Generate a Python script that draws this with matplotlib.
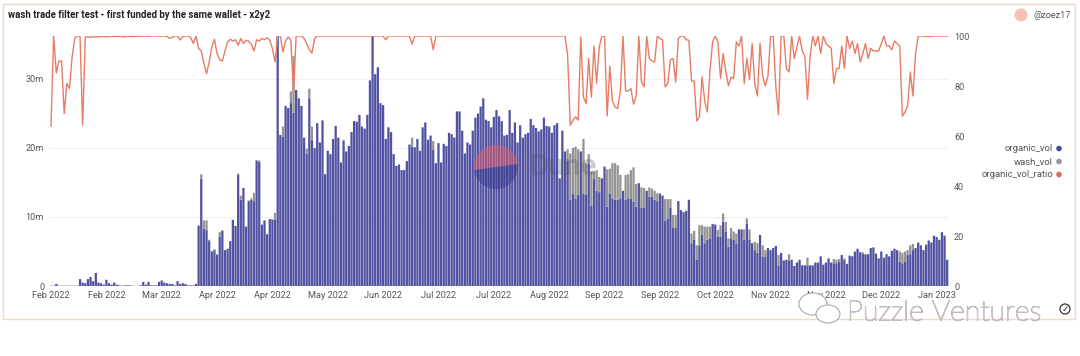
import matplotlib
matplotlib.use("Agg")
import matplotlib.dates as mdates
import matplotlib.patheffects as pe
import matplotlib.pyplot as plt
import pandas as pd
from matplotlib.patches import Circle, Ellipse, Rectangle, Wedge

start_date = "2022-02-04"

organic_vol = [
    .05, .05, .3, .05, .05, .05, .05, .05, .05, .05,
    .05, 1.0, .5, .4, 1.0, 1.3, .7, 1.9, .5, .4,
    .2, .9, .4, .2, .5, .2, .1, .05, .1, .1,
    .1, .05, .02, .02, .1, .6, .2, .6, .1, .1,
    .1, .6, .8, .5, .4, .3, .3, .1, .7, .3,
    .4, .3, .1, .1, .1, .3, 8.7, 15.5, 8.3, 8.1,
    6.5, 5.0, 5.2, 4.5, 7.1, 8.0, 5.2, 5.4, 6.5, 9.6,
    8.7, 16.1, 12.5, 14.2, 8.6, 12.3, 12.5, 12.3, 18.2, 18.0,
    8.9, 9.5, 7.5, 9.7, 9.6, 9.6, 37, 21.9, 21.6, 26.1,
    25.8, 26.5, 25.1, 28.4, 27.2, 26.1, 21.5, 19.2, 27.2, 21.2,
    20, 23.6, 20.8, 24, 16.2, 19.6, 19.1, 21.3, 23.2, 21.5,
    17.9, 21.1, 19.5, 20.3, 22.3, 23.9, 23.8, 24.8, 23.1, 22.8,
    24.8, 29.8, 37, 30.7, 31.7, 26.5, 26.2, 21.3, 23, 22.3,
    19.1, 17.4, 17.6, 16.8, 16.8, 18.1, 20.5, 20.2, 20.1, 21.3,
    19.6, 23, 23.7, 21.2, 21.8, 19.8, 17.8, 20.7, 17.9, 20.6,
    20.3, 22.2, 22, 21.5, 25.3, 25.3, 22.5, 19.2, 20.8, 20.5,
    22.5, 24.4, 25, 26, 27.2, 24.1, 23.9, 23, 24.5, 25.5,
    24.6, 23.9, 21.8, 21.9, 25.5, 22.2, 23.7, 20.8, 23.3, 21.5,
    22, 22.2, 24.2, 23.3, 22.9, 22.4, 22.7, 24.4, 23.2, 23.1,
    22.2, 23.3, 23.6, 15.6, 22.5, 19.5, 18.1, 12.5, 13.4, 12.7,
    13.2, 19.5, 13.4, 13.2, 17.8, 11.6, 15.5, 13.8, 13.6, 15.6,
    17.3, 11.5, 13.4, 12.7, 12.5, 12.5, 12.7, 13.8, 12.5, 12.7,
    12.7, 12.2, 11.5, 14.9, 11.4, 11.4, 13.8, 12.9, 12.9, 12.5,
    12.3, 13.4, 13.1, 9.5, 9.8, 11.4, 8.4, 8.4, 12.3, 11,
    10.7, 10.9, 12.5, 6.2, 6.7, 3.8, 5.9, 7.4, 6.2, 6.7,
    6.9, 9, 8.9, 7.1, 7.1, 9.3, 7.9, 5.7, 6.9, 6.7,
    6.2, 8.2, 8.2, 6.7, 9, 6.7, 6.2, 5.2, 4.8, 7.4,
    4.3, 4.2, 5.5, 5.2, 5.5, 5.8, 3, 4.8, 3.7, 3.8,
    3.7, 3.8, 2.9, 3.4, 3.8, 3, 3, 2.9, 3, 3,
    3.4, 3.4, 4.3, 3.1, 3.4, 4, 3.4, 3.3, 3.3, 3.5,
    4.5, 3.8, 3.2, 4.4, 4.3, 5, 5.4, 4.9, 4.7, 4.6,
    4.6, 5.5, 5.6, 4.7, 4, 5, 4.1, 4.6, 4.3, 5.1,
    5.4, 5.2, 3.5, 3.3, 3.5, 4.5, 4.6, 5.2, 5.5, 6.3,
    5.9, 5.2, 6, 6.6, 6.3, 7.3, 7.1, 6.7, 7.8, 7.3,
    3.8,
]

wash_vol = [
    0, 0, 0, 0, 0, 0, 0, 0, 0, 0,
    0, 0, 0, 0, 0, 0, 0, 0, 0, 0,
    0, 0, 0, 0, 0, 0, 0, 0, 0, 0,
    0, 0, 0, 0, 0, 0, 0, 0, 0, 0,
    0, 0, 0, 0, 0, 0, 0, 0, 0, 0,
    0, 0, 0, 0, 0, 0, .1, .7, 1.2, 1.4,
    .2, .1, .1, .1, .7, .1, 0, 0, 0, 0,
    0, .2, .6, 0, 0, .1, .2, 1.2, 0, .2,
    0, 0, 0, 0, .1, 1.0, 0, 0, 1.5, 0,
    0, 1.7, 8.2, 0, 0, 0, 0, .7, 1.4, 1.9,
    0, 0, 0, 0, 0, 0, 0, 0, 0, 0,
    0, 0, 0, 0, 0, 0, 0, 0, 0, 0,
    0, 0, 0, 0, 0, 0, 0, 0, 0, 0,
    0, 0, 0, 0, 0, 0, 0, 1.3, 0, 0,
    0, 0, 0, 0, 0, 1.2, 0, 0, 0, 0,
    0, 0, 0, 0, 0, 0, 0, 0, 0, 0,
    0, 0, 0, 0, 0, 0, 0, 0, 0, 0,
    0, 0, 0, 0, 0, 0, 0, 0, 0, 0,
    0, 0, 0, 0, 0, 0, 0, 0, 0, 0,
    0, 0, 0, 0, 0, 0, 1.7, 6.7, 6.6, 7.5,
    6.6, 0, 7.9, 4.6, 1.3, 5, 1.1, 3, 2.2, 0,
    0, 5.4, 3.6, 5.1, 5.3, 5, 3.4, 0, 3.6, 3.5,
    4.1, 5, 3.3, 0, 2.9, 2.8, 0, 1.4, 1.2, 1.3,
    1.1, 0, 0, 3.1, 2.8, 1.2, 1.9, 1.9, 0, 0,
    0, 0, 0, 1.4, 1.3, 2.1, 2.9, 1.4, 2.4, 1.9,
    1.7, 0, 0, 1, 1.7, 1.2, 1.4, 1.2, 1.5, 1.2,
    1.4, 0, 0, 1.5, .8, 1.5, 0, 1.2, 1.4, 0,
    1.6, 1, 0, 0, 0, 0, 1.5, 0, 0, 0,
    .9, 0, 0, 0, 0, 0, 0, 1.2, 0, 0,
    0, 0, 0, 0, 0, 0, 0, .6, .5, .4,
    0, .2, 0, 0, 0, 0, 0, 0, .2, 0,
    0, 0, 0, 0, 0, 0, 0, 0, 0, 0,
    0, 0, 1.5, 1.5, 1.5, .7, 1.3, .9, 0, 0,
    0, 0, 0, 0, 0, 0, 0, 0, 0, 0,
    0,
]

organic_vol_ratio = [
    63.9, 100, 85.2, 90, 90, 69, 81, 79, 91.6, 99,
    100, 100, 64.3, 99.6, 99.6, 99.5, 99.7, 99.7, 99.6, 99.8,
    99.8, 99.7, 99.8, 99.9, 99.8, 99.9, 99.8, 99.8, 99.7, 99.9,
    99.8, 99.8, 99.9, 99.9, 99.9, 100, 99.9, 99.9, 100, 100,
    100, 99.9, 100, 100, 99.8, 99, 99.5, 100, 100, 98.4,
    99.8, 100, 100, 99.3, 97, 100, 95, 94, 89, 85,
    89.6, 95.6, 98.7, 93, 90.5, 90, 94, 97.6, 98.7, 98,
    98.5, 96.3, 99, 97, 98.3, 97.9, 96.7, 94, 98.5, 98,
    99, 98.5, 99.3, 98.3, 95, 89.6, 100, 100, 93.6, 98,
    99.6, 98.3, 77, 100, 100, 100, 99, 97, 94.5, 93.2,
    99, 100, 100, 100, 100, 100, 100, 100, 100, 100,
    100, 100, 100, 100, 100, 100, 100, 100, 100, 100,
    100, 100, 100, 100, 100, 100, 100, 98.5, 100, 100,
    100, 100, 100, 100, 100, 100, 100, 96.7, 100, 100,
    100, 100, 100, 100, 100, 94.5, 100, 100, 100, 100,
    100, 100, 100, 100, 100, 100, 100, 100, 100, 100,
    100, 100, 100, 100, 100, 100, 100, 100, 100, 100,
    100, 100, 100, 100, 100, 100, 100, 100, 100, 100,
    100, 100, 100, 100, 100, 100, 100, 100, 100, 100,
    100, 100, 100, 100, 100, 100, 92.3, 64.3, 66.3, 67.6,
    66.3, 99.6, 75.6, 73, 91, 75.6, 96, 81, 95.6, 100,
    100, 68, 88, 74, 71.6, 71, 78, 100, 78, 78,
    79, 72.7, 76, 100, 81.6, 79.6, 100, 91, 90, 89.6,
    100, 99, 98.5, 79.6, 81, 90.5, 91, 81.6, 99, 100,
    100, 98.5, 98.3, 82, 82, 66, 67.6, 83.6, 74, 69.6,
    86, 97.6, 100, 97.6, 83, 93, 86, 80, 83.6, 83,
    97.6, 96, 100, 81, 91, 82.5, 97, 81, 76, 97,
    84, 80, 84, 100, 100, 79.6, 68.5, 100, 100, 87,
    85.6, 100, 91, 95.6, 100, 94, 92, 74.7, 92, 100,
    96, 100, 93, 100, 97, 96, 95, 81, 87, 87,
    96, 87, 100, 95, 98, 93, 97, 89.6, 93, 97,
    91, 95, 94, 94, 94, 97, 100, 96, 96, 94.5,
    98, 97, 96, 68, 69.6, 72, 85.6, 76, 93, 100,
    100, 100, 99.8, 99.8, 99.9, 100, 100, 100, 100, 100,
    100,
]

left_ticks = [0, 10, 20, 30]
left_labels = ["0", "10m", "20m", "30m"]
right_ticks = [0, 20, 40, 60, 80, 100]
legend_names = ["organic_vol", "wash_vol", "organic_vol_ratio"]

W, H = 1080, 356
ORGANIC = "#5252a2"
WASH = "#949494"
RATIO = "#e67c66"
TEXT = "#555555"

plt.rcParams["font.family"] = ["Roboto", "DejaVu Sans"]

fig = plt.figure(figsize=(W / 100, H / 100), dpi=100, facecolor="white")

# page level things, in pixel coordinates
page = fig.add_axes([0, 0, 1, 1], zorder=0)
page.set_xlim(0, W)
page.set_ylim(H, 0)
page.axis("off")
page.add_patch(Rectangle((3, 3.5), 1072, 315.5, fill=False, ec="#f6d3cc", lw=1))
page.text(8, 15, "wash trade filter test - first funded by the same wallet - x2y2",
          fontsize=6.9, fontweight="bold", color="#222222", va="center")
page.add_patch(Circle((1021, 15), 6.5, fc="#f9c0b8", ec="none"))
page.text(1033, 15, "@zoez17", fontsize=6.6, color=TEXT, va="center")

# main axes
left, right, top, bottom = 49.7, 948.5, 35.5, 286
ax = fig.add_axes([left / W, 1 - bottom / H, (right - left) / W, (bottom - top) / H], zorder=1)
ax.patch.set_alpha(0)

dates = pd.date_range(start_date, periods=len(organic_vol), freq="D")
# no snapping, otherwise the gaps between bars come out uneven
ax.bar(dates, organic_vol, width=0.86, color=ORGANIC, linewidth=0, zorder=2, snap=False)
ax.bar(dates, wash_vol, width=0.86, bottom=organic_vol, color=WASH, linewidth=0, zorder=2, snap=False)

ax.set_xlim(dates[0] - pd.Timedelta(hours=12), dates[-1] + pd.Timedelta(hours=12))
ax.set_ylim(0, 36.3)
ax.set_yticks(left_ticks, left_labels)
ax.set_xticks(dates[::21])
ax.xaxis.set_major_formatter(mdates.DateFormatter("%b %Y"))
ax.tick_params(axis="both", length=0, labelsize=6.6, labelcolor=TEXT)
ax.tick_params(axis="x", pad=3.5)
ax.tick_params(axis="y", pad=4)
ax.grid(axis="y", color="#f1f1f1", lw=0.8, zorder=0)
ax.set_axisbelow(True)
for s in ax.spines.values():
    s.set_visible(False)

ax2 = ax.twinx()
ax2.plot(dates, organic_vol_ratio, color=RATIO, lw=1.0, zorder=3)
ax2.set_ylim(0, 100.2)
ax2.set_yticks(right_ticks)
ax2.tick_params(axis="y", length=0, labelsize=6.6, labelcolor=TEXT, pad=4)
for s in ax2.spines.values():
    s.set_visible(False)

# overlay for legend and watermarks
over = fig.add_axes([0, 0, 1, 1], zorder=3)
over.set_xlim(0, W)
over.set_ylim(H, 0)
over.axis("off")
over.patch.set_alpha(0)

legend_colors = ["#4b4b9c", "#8d9b93", "#e66a52"]
for name, c, y in zip(legend_names, legend_colors, [148.5, 161.5, 174.5]):
    over.text(1053, y, name, fontsize=6.8, color=TEXT, ha="right", va="center")
    over.add_patch(Circle((1059, y), 2.8, fc=c, ec="none"))

# dune logo watermark, the y axis here runs downwards
over.add_patch(Wedge((496, 167), 22, 172, 352, fc="#e8606a", ec="none", alpha=0.5))
over.add_patch(Wedge((496, 167), 22, -8, 172, fc="#3a3a90", ec="none", alpha=0.5))
over.text(529, 167, "Dune", fontsize=21, color="#555566", alpha=0.3, va="center", fontweight="bold")

# wechat style watermark
outline = [pe.withStroke(linewidth=0.7, foreground="#a5a5a5")]
over.add_patch(Ellipse((813, 304), 28, 22, fc="white", ec="#aaaaaa", lw=0.8))
over.add_patch(Ellipse((828, 314), 24, 18, fc="white", ec="#aaaaaa", lw=0.8))
over.text(847, 313, "Puzzle Ventures", fontsize=20.5, color="white", va="center",
          family="Lato", fontweight="light", path_effects=outline)
over.add_patch(Circle((1065, 309), 5, fill=False, ec="#333333", lw=0.9))
over.text(1065, 309, "\u2713", fontsize=6.5, color="#333333", ha="center", va="center", family="DejaVu Sans")

fig.savefig("out.png", dpi=100, facecolor="white")
